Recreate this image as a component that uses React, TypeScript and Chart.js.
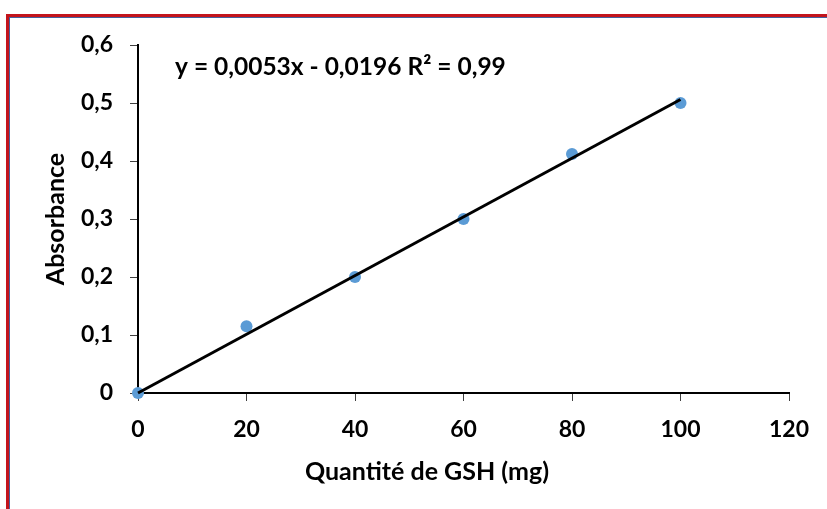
import React, { useEffect, useRef } from 'react';
import { Chart, registerables } from 'chart.js';

Chart.register(...registerables);

const quantities = [0, 20, 40, 60, 80, 100];
const absorbances = [0, 0.115, 0.2, 0.3, 0.412, 0.5];
const trendQuantities = [0, 100];
const trendAbsorbances = [0, 0.506];
const equationLabel = 'y = 0,0053x - 0,0196 R² = 0,99';
const xTitle = 'Quantité de GSH (mg)';
const yTitle = 'Absorbance';

const FONT = 'Lato, "Open Sans", sans-serif';

const framePlugin = {
  id: 'frame',
  beforeDraw(chart: any) {
    const ctx = chart.ctx;
    const w = chart.width;
    const h = chart.height;
    ctx.save();
    ctx.fillStyle = '#ffffff';
    ctx.fillRect(0, 0, w, h);
    ctx.fillStyle = '#C3141C';
    ctx.fillRect(6, 14, w - 6, 3);
    ctx.fillRect(6, 14, 3, h - 14);
    ctx.fillStyle = '#44619E';
    ctx.fillRect(9, 17, w - 9, 1);
    ctx.fillRect(9, 17, 1, h - 17);
    ctx.restore();
  },
};

const textPlugin = {
  id: 'texts',
  afterDraw(chart: any) {
    const ctx = chart.ctx;
    ctx.save();
    ctx.fillStyle = '#000000';
    ctx.font = `bold 24.5px ${FONT}`;
    ctx.textBaseline = 'alphabetic';
    ctx.textAlign = 'left';
    ctx.fillText(equationLabel, 175, 75);
    ctx.font = `bold 25px ${FONT}`;
    ctx.textAlign = 'center';
    ctx.textBaseline = 'middle';
    ctx.fillText(xTitle, 427, 472);
    ctx.restore();
  },
};

export default function App() {
  const ref = useRef<HTMLCanvasElement | null>(null);

  useEffect(() => {
    if (!ref.current) return;
    const chart = new Chart(ref.current, {
      type: 'scatter',
      data: {
        datasets: [
          {
            label: 'Tendance',
            data: trendQuantities.map((x, i) => ({ x, y: trendAbsorbances[i] })),
            showLine: true,
            borderColor: '#000000',
            borderWidth: 3,
            pointRadius: 0,
            fill: false,
            clip: false,
          },
          {
            label: 'Absorbance',
            data: quantities.map((x, i) => ({ x, y: absorbances[i] })),
            backgroundColor: '#5B9BD5',
            borderColor: '#5B9BD5',
            borderWidth: 0,
            pointRadius: 6,
            clip: false,
          },
        ],
      },
      options: {
        responsive: false,
        animation: false,
        layout: { padding: { left: 0, top: 45, right: 38, bottom: 0 } },
        plugins: {
          legend: { display: false },
          tooltip: { enabled: false },
        },
        scales: {
          x: {
            type: 'linear',
            min: 0,
            max: 120,
            afterFit: (s: any) => {
              s.height = 116;
            },
            ticks: {
              stepSize: 20,
              padding: 15,
              color: '#000000',
              font: { family: FONT, size: 23, weight: 'bold' },
            },
            grid: {
              drawOnChartArea: false,
              drawTicks: true,
              tickLength: 8,
              color: '#404040',
              lineWidth: 1,
            },
            border: { display: true, color: '#000000', width: 2 },
            title: { display: false, text: xTitle },
          },
          y: {
            type: 'linear',
            min: 0,
            max: 0.6,
            afterFit: (s: any) => {
              s.width = 138;
            },
            ticks: {
              stepSize: 0.1,
              padding: 17,
              color: '#000000',
              font: { family: FONT, size: 23, weight: 'bold' },
              callback: (v: any) => (Number(v) === 0 ? '0' : Number(v).toFixed(1).replace('.', ',')),
            },
            grid: {
              drawOnChartArea: false,
              drawTicks: true,
              tickLength: 8,
              color: '#404040',
              lineWidth: 1,
            },
            border: { display: true, color: '#000000', width: 2 },
            title: {
              display: true,
              text: yTitle,
              color: '#000000',
              font: { family: FONT, size: 25, weight: 'bold' },
              padding: { top: 41, bottom: 0 },
            },
          },
        },
      },
      plugins: [framePlugin, textPlugin],
    } as any);
    return () => chart.destroy();
  }, []);

  return (
    <div style={{ position: 'absolute', left: 0, top: 0, width: 827, height: 509 }}>
      <canvas ref={ref} width={827} height={509} style={{ display: 'block' }} />
    </div>
  );
}
